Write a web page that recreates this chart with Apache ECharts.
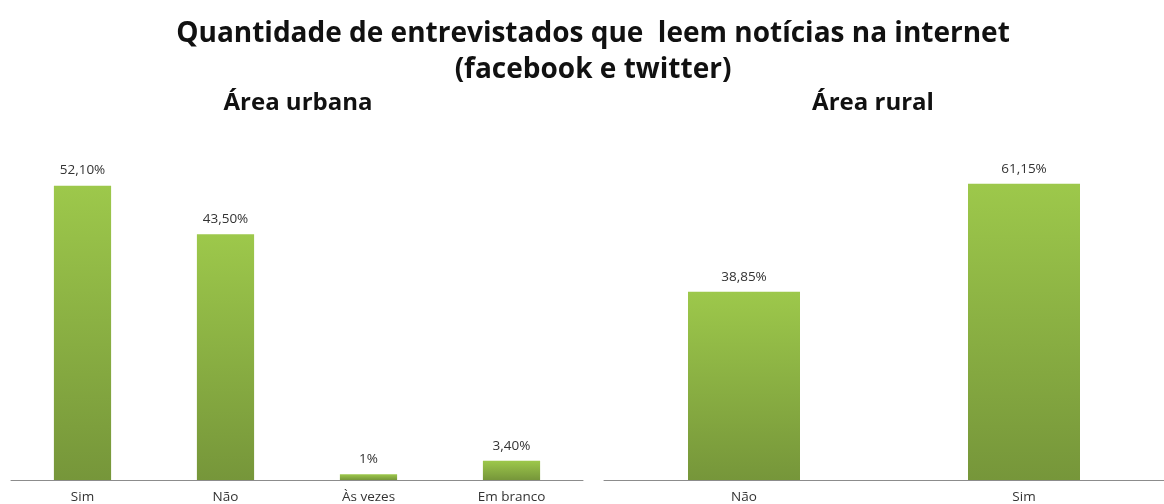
<!DOCTYPE html>
<html>
<head>
<meta charset="utf-8">
<script src="https://cdn.jsdelivr.net/npm/echarts@6/dist/echarts.min.js"></script>
<style>
  html, body { margin: 0; padding: 0; background: #fff; }
  #chart { width: 1164px; height: 504px; }
</style>
</head>
<body>
<div id="chart"></div>
<script>
// dados
const urbanCategories = ["Sim", "Não", "Às vezes", "Em branco"];
const urbanValues = [52.1, 43.5, 1, 3.4];
const ruralCategories = ["Não", "Sim"];
const ruralValues = [38.85, 61.15];

const chart = echarts.init(document.getElementById("chart"));

// 52.1 -> "52,10%", 1 -> "1%"
function pct(v) {
  if (Number.isInteger(v)) return v + "%";
  return v.toFixed(2).replace(".", ",") + "%";
}

const barColor = new echarts.graphic.LinearGradient(0, 0, 0, 1, [
  { offset: 0, color: "#9DC84B" },
  { offset: 1, color: "#76963A" },
]);

const axisBase = {
  type: "category",
  axisLine: { lineStyle: { color: "#8c8c8c", width: 1 } },
  axisTick: { show: false },
  axisLabel: { color: "#333", fontSize: 13.5, fontFamily: "Open Sans", margin: 10 },
};

const labelBase = {
  show: true,
  position: "top",
  distance: 8,
  color: "#333",
  fontSize: 13.5,
  fontFamily: "Open Sans",
  formatter: (p) => pct(p.value),
};

const titleStyle = { fontFamily: "Open Sans", fontWeight: "bold", fontSize: 24, color: "#111" };

const option = {
  backgroundColor: "#fff",
  animation: false,
  title: [
    {
      text: "Quantidade de entrevistados que  leem notícias na internet\n(facebook e twitter)",
      left: 588,
      top: 11,
      textAlign: "center",
      textStyle: { fontFamily: "Open Sans", fontWeight: "bold", fontSize: 28, lineHeight: 36, color: "#111" },
    },
    {
      text: "Área urbana",
      left: 293,
      top: 86,
      textAlign: "center",
      textStyle: titleStyle,
    },
    {
      text: "Área rural",
      left: 868,
      top: 86,
      textAlign: "center",
      textStyle: titleStyle,
    },
  ],
  grid: [
    { left: 11, top: 141, width: 572, height: 341 },
    { left: 604, top: 141, width: 571, height: 341 },
  ],
  xAxis: [
    Object.assign({ gridIndex: 0, data: urbanCategories }, axisBase),
    Object.assign({ gridIndex: 1, data: ruralCategories }, axisBase),
  ],
  yAxis: [
    { gridIndex: 0, type: "value", min: 0, max: 60, show: false },
    { gridIndex: 1, type: "value", min: 0, max: 70, show: false },
  ],
  series: [
    {
      type: "bar",
      xAxisIndex: 0,
      yAxisIndex: 0,
      data: urbanValues,
      barWidth: "40%",
      itemStyle: { color: barColor },
      label: labelBase,
    },
    {
      type: "bar",
      xAxisIndex: 1,
      yAxisIndex: 1,
      data: ruralValues,
      barWidth: "40%",
      itemStyle: { color: barColor },
      label: labelBase,
    },
  ],
};

chart.setOption(option);
</script>
</body>
</html>
